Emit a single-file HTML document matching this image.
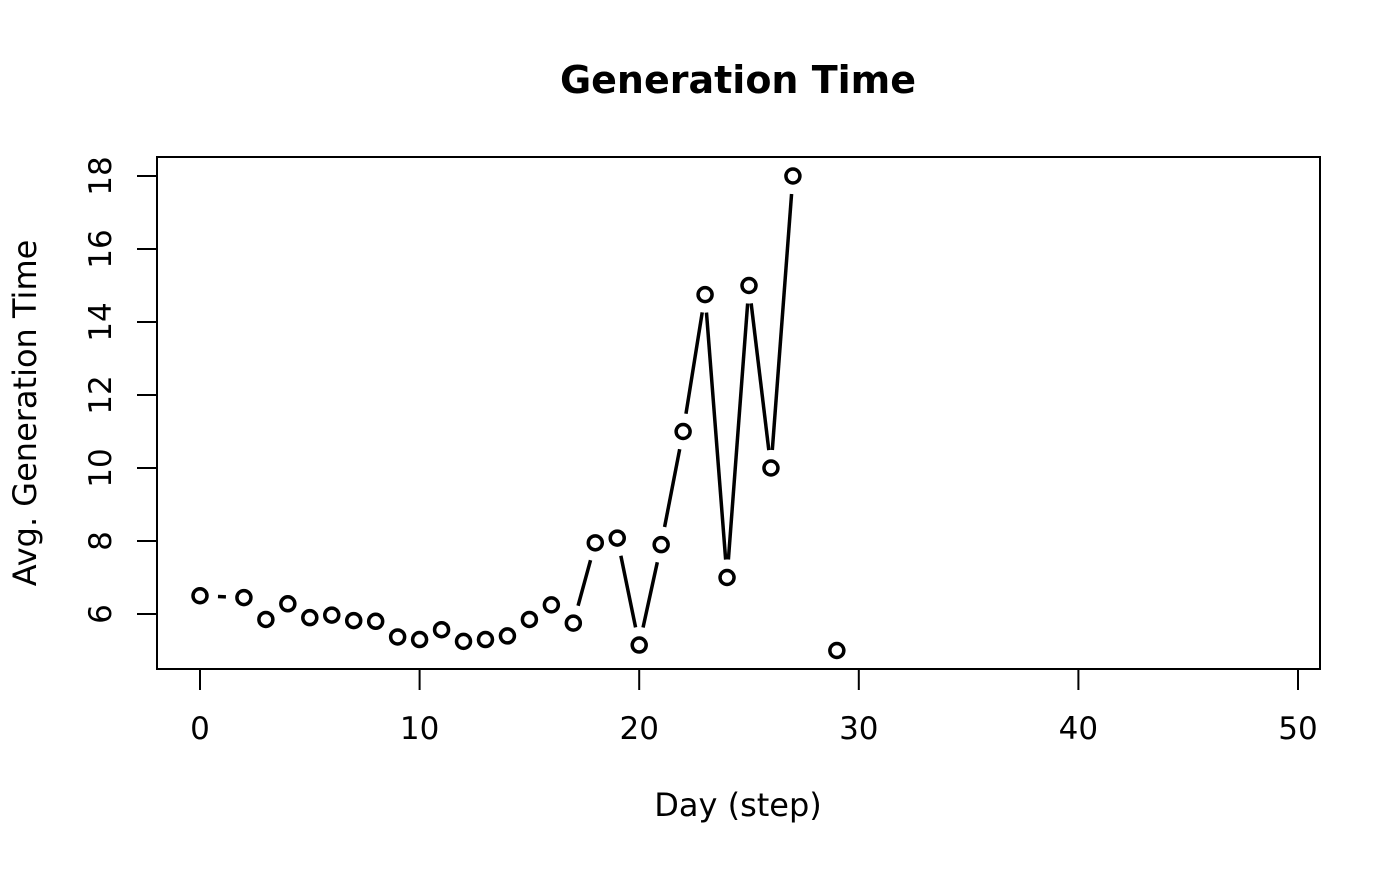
<!DOCTYPE html>
<html><head><meta charset="utf-8"><style>body{margin:0;background:#fff}</style></head><body>
<svg id="s" width="1400" height="866" xmlns="http://www.w3.org/2000/svg" font-family="'DejaVu Sans','Liberation Sans',sans-serif">
<rect width="1400" height="866" fill="#fff"/>
<text x="738" y="93" text-anchor="middle" font-size="38" font-weight="bold">Generation Time</text>
<text x="738" y="816" text-anchor="middle" font-size="32">Day (step)</text>
<text transform="translate(36,413) rotate(-90)" text-anchor="middle" font-size="32">Avg. Generation Time</text>
<rect x="157" y="157" width="1163" height="512" fill="none" stroke="#000" stroke-width="2"/>
<g id="g" stroke="#000" stroke-width="3.5" fill="none"></g>
<g id="t" font-size="31"></g>
</svg>
<script>
var X=function(v){return 200+v*21.96},Y=function(v){return 614-(v-6)*36.5};
var d=[[0,6.5],[2,6.45],[3,5.85],[4,6.28],[5,5.9],[6,5.97],[7,5.82],[8,5.8],[9,5.37],[10,5.3],[11,5.57],[12,5.25],[13,5.3],[14,5.4],[15,5.85],[16,6.25],[17,5.75],[18,7.95],[19,8.08],[20,5.15],[21,7.9],[22,11],[23,14.75],[24,7],[25,15],[26,10],[27,18],null,[29,5]];
var g=document.getElementById('g'),t=document.getElementById('t'),h='',s='';
for(var i=0;i<d.length-1;i++){var a=d[i],b=d[i+1];if(!a||!b)continue;
var x1=X(a[0]),y1=Y(a[1]),x2=X(b[0]),y2=Y(b[1]),dx=x2-x1,dy=y2-y1,L=Math.hypot(dx,dy),gp=18;
if(L>2*gp){h+='<line x1="'+(x1+dx/L*gp)+'" y1="'+(y1+dy/L*gp)+'" x2="'+(x2-dx/L*gp)+'" y2="'+(y2-dy/L*gp)+'"/>';}}
d.forEach(function(p){if(p)h+='<circle cx="'+X(p[0])+'" cy="'+Y(p[1])+'" r="7"/>';});
for(var v=0;v<=50;v+=10){h+='<line x1="'+X(v)+'" y1="669" x2="'+X(v)+'" y2="690" stroke-width="2"/>';s+='<text x="'+X(v)+'" y="739" text-anchor="middle">'+v+'</text>';}
for(var v=6;v<=18;v+=2){h+='<line x1="137" y1="'+Y(v)+'" x2="157" y2="'+Y(v)+'" stroke-width="2"/>';s+='<text transform="translate(111,'+Y(v)+') rotate(-90)" text-anchor="middle">'+v+'</text>';}
g.innerHTML=h;t.innerHTML=s;
</script>
</body></html>
